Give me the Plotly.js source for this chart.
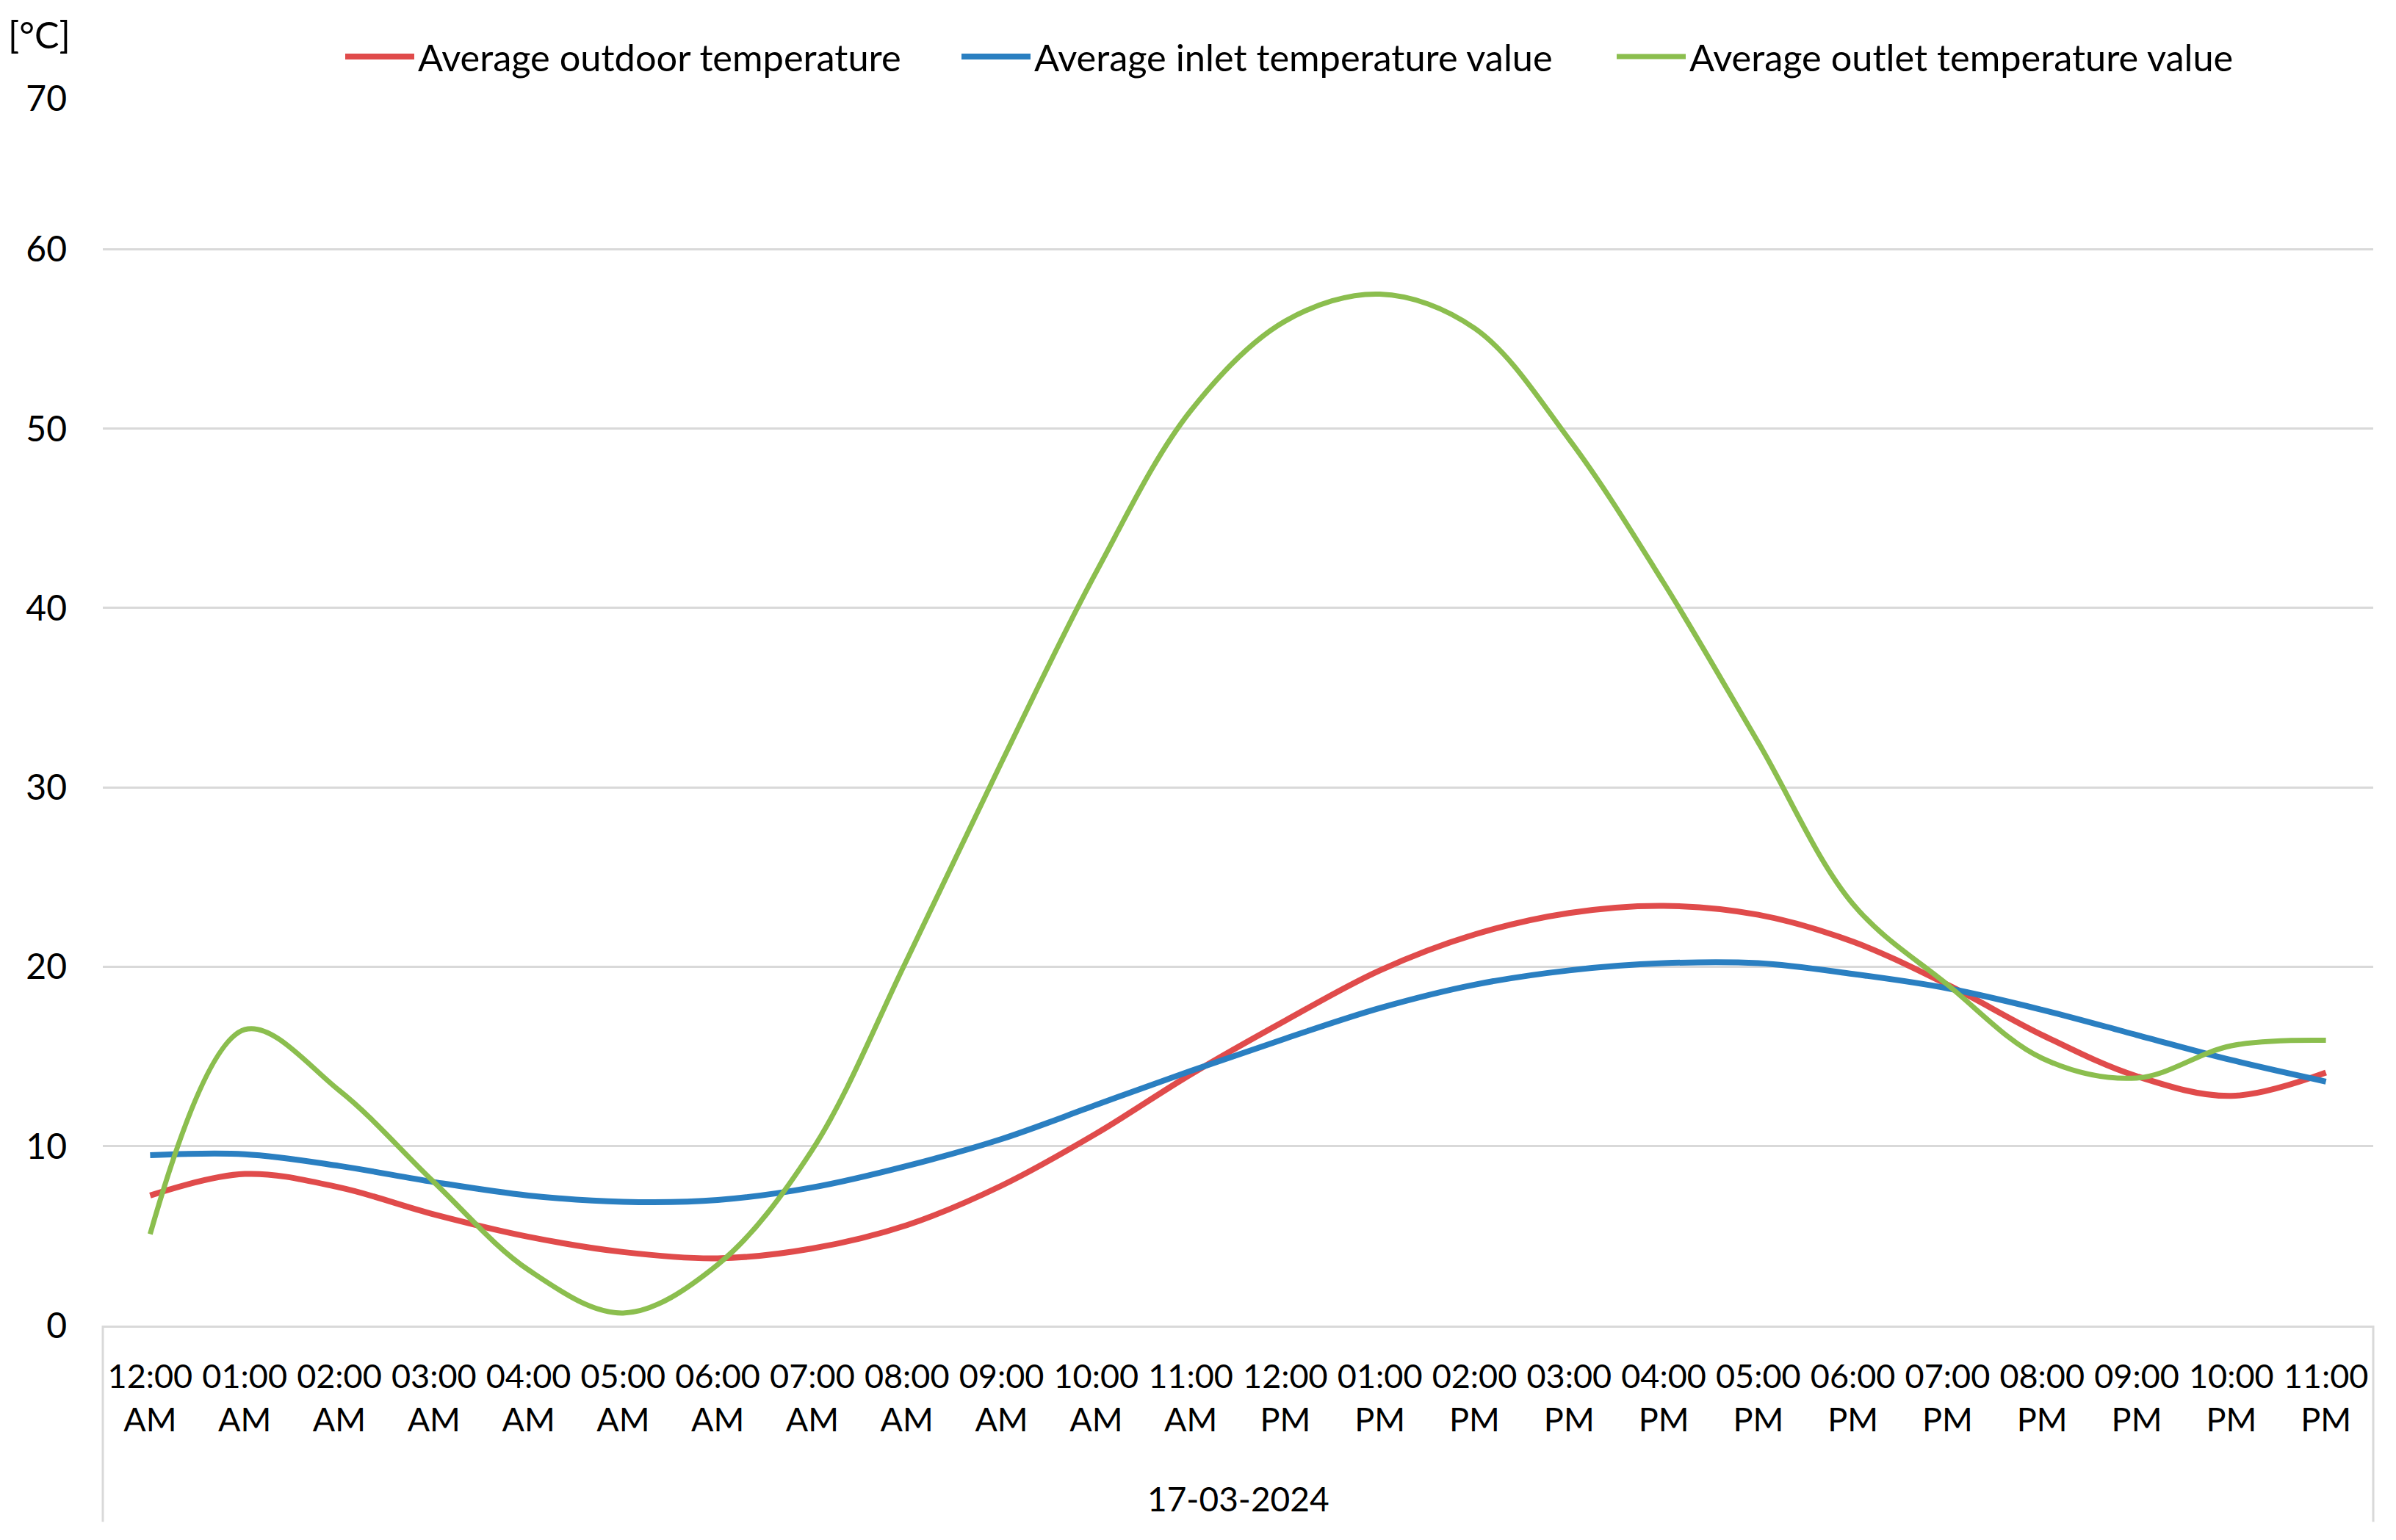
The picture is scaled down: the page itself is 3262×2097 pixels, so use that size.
<!DOCTYPE html>
<html>
<head>
<meta charset="utf-8">
<script src="https://cdn.plot.ly/plotly-3.0.1.min.js"></script>
<style>html,body{margin:0;padding:0;background:#fff;}#chart{width:3262px;height:2097px;}</style>
</head>
<body>
<div id="chart"></div>
<script>
// ---- data ----
const categories = ["12:00 AM","01:00 AM","02:00 AM","03:00 AM","04:00 AM","05:00 AM","06:00 AM","07:00 AM","08:00 AM","09:00 AM","10:00 AM","11:00 AM",
                    "12:00 PM","01:00 PM","02:00 PM","03:00 PM","04:00 PM","05:00 PM","06:00 PM","07:00 PM","08:00 PM","09:00 PM","10:00 PM","11:00 PM"];
const tickLabels = ["12:00<br>AM","01:00<br>AM","02:00<br>AM","03:00<br>AM","04:00<br>AM","05:00<br>AM","06:00<br>AM","07:00<br>AM","08:00<br>AM","09:00<br>AM","10:00<br>AM","11:00<br>AM",
                    "12:00<br>PM","01:00<br>PM","02:00<br>PM","03:00<br>PM","04:00<br>PM","05:00<br>PM","06:00<br>PM","07:00<br>PM","08:00<br>PM","09:00<br>PM","10:00<br>PM","11:00<br>PM"];
const outdoorTemp = [7.25, 8.45, 7.7, 6.2, 4.95, 4.1, 3.75, 4.3, 5.6, 7.8, 10.7, 14.0, 17.0, 19.8, 21.8, 23.0, 23.4, 22.9, 21.4, 19.0, 16.2, 13.9, 12.8, 14.1];
const inletTemp   = [9.5, 9.55, 8.9, 8.0, 7.25, 6.9, 7.0, 7.7, 8.9, 10.4, 12.3, 14.2, 16.0, 17.7, 19.0, 19.8, 20.2, 20.2, 19.6, 18.8, 17.6, 16.2, 14.8, 13.6];
const outletTemp  = [5.1, 16.5, 13.1, 8.0, 3.1, 0.7, 3.4, 9.8, 20.4, 31.4, 42.0, 51.0, 56.0, 57.5, 55.6, 49.4, 41.4, 32.5, 23.5, 19.0, 14.9, 13.8, 15.6, 15.9];
const seriesNames = ["Average outdoor temperature","Average inlet temperature value","Average outlet temperature value"];
const yTickVals  = [0, 10, 20, 30, 40, 50, 60, 68.41];
const yTickText  = ["0","10","20","30","40","50","60","70"];
const unitLabel = "[°C]";
const dateLabel = "17-03-2024";

const FONT = "Lato, Liberation Sans, sans-serif";
const PLOT_L = 140, PLOT_W = 3091;
const px2x = p => (p - PLOT_L) / PLOT_W;

const traces = [
  {x: categories, y: outdoorTemp, name: seriesNames[0], type: "scatter", mode: "lines", legend: "legend",
   line: {color: "#E04B4B", width: 8, shape: "spline", smoothing: 1}},
  {x: categories, y: inletTemp, name: seriesNames[1], type: "scatter", mode: "lines", legend: "legend2",
   line: {color: "#2A7FC1", width: 8, shape: "spline", smoothing: 1}},
  {x: categories, y: outletTemp, name: seriesNames[2], type: "scatter", mode: "lines", legend: "legend3",
   line: {color: "#8BBE4E", width: 7, shape: "spline", smoothing: 1}}
];

const legendBase = {orientation: "h", xanchor: "left", y: 1.034, yanchor: "middle",
  font: {family: FONT, size: 50.5, color: "#000"}, itemwidth: 94, bgcolor: "rgba(0,0,0,0)", borderwidth: 0};

const layout = {
  width: 3262, height: 2097,
  margin: {l: 140, r: 31, t: 134, b: 292, autoexpand: false},
  paper_bgcolor: "#ffffff", plot_bgcolor: "#ffffff",
  showlegend: true,
  legend:  Object.assign({}, legendBase, {x: px2x(465)}),
  legend2: Object.assign({}, legendBase, {x: px2x(1304)}),
  legend3: Object.assign({}, legendBase, {x: px2x(2196)}),
  xaxis: {type: "category", range: [-0.5, 23.5], tickvals: categories, ticktext: tickLabels, tickangle: 0,
          showgrid: false, zeroline: false, showline: true, linecolor: "#d9d9d9", linewidth: 3,
          ticks: "", ticklabelstandoff: 28,
          tickfont: {family: FONT, size: 45, color: "#000"}},
  yaxis: {range: [0, 68.41], tickvals: yTickVals, ticktext: yTickText, showgrid: true,
          gridcolor: "#d9d9d9", gridwidth: 3, zeroline: false, showline: false, ticks: "",
          ticklabelstandoff: 48,
          tickfont: {family: FONT, size: 48, color: "#000"}},
  shapes: [
    {type: "line", xref: "paper", yref: "paper", x0: 0, x1: 0, y0: 0, y1: -0.16, line: {color: "#d9d9d9", width: 3}},
    {type: "line", xref: "paper", yref: "paper", x0: 1, x1: 1, y0: 0, y1: -0.16, line: {color: "#d9d9d9", width: 3}}
  ],
  annotations: [
    {text: unitLabel, xref: "paper", yref: "paper", x: px2x(53), y: 1.052, xanchor: "center", yanchor: "middle",
     showarrow: false, font: {family: FONT, size: 50, color: "#000"}},
    {text: dateLabel, xref: "paper", yref: "paper", x: 0.5, y: -0.141, xanchor: "center", yanchor: "middle",
     showarrow: false, font: {family: FONT, size: 46, color: "#000"}}
  ]
};

Plotly.newPlot("chart", traces, layout, {displayModeBar: false, staticPlot: true});
</script>
</body>
</html>
